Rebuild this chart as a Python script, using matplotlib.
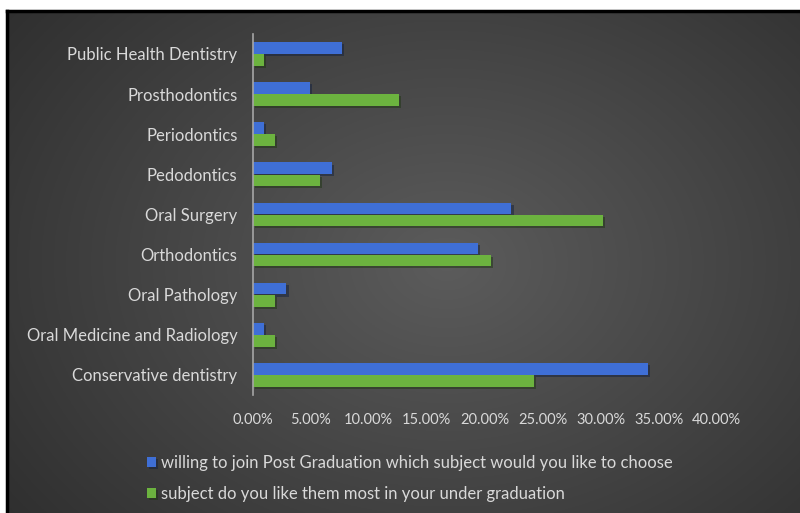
import numpy as np
import matplotlib
matplotlib.use("Agg")
import matplotlib.pyplot as plt
import matplotlib.patheffects as pe
from matplotlib.lines import Line2D
from matplotlib.ticker import FuncFormatter

# categories, bottom to top
subjects = ["Conservative dentistry", "Oral Medicine and Radiology", "Oral Pathology",
            "Orthodontics", "Oral Surgery", "Pedodontics", "Periodontics",
            "Prosthodontics", "Public Health Dentistry"]
pg_choice = [34.1, 0.96, 2.9, 19.4, 22.3, 6.8, 0.96, 4.9, 7.7]      # % willing to join PG
ug_liked = [24.2, 1.9, 1.9, 20.5, 30.2, 5.8, 1.9, 12.6, 0.96]       # % liked in UG
xticks = [0, 5, 10, 15, 20, 25, 30, 35, 40]

label_pg = "willing to join Post Graduation which subject would you like to choose"
label_ug = "subject do you like them most in your under graduation"

txt = "#d9d9d9"
blue = "#3f6fd6"
green = "#6cb33f"
plt.rcParams['font.family'] = ['Lato', 'DejaVu Sans']

fig = plt.figure(figsize=(8, 5.13), dpi=100)
fig.patch.set_facecolor("white")

# dark radial gradient background, framed by a black line top and left
bg = fig.add_axes([0.009, -0.01, 1.0, 0.989])
yy, xx = np.mgrid[0:1:300j, 0:1:500j]
r = np.sqrt(((xx - 0.55) / 0.75) ** 2 + ((yy - 0.5) / 0.9) ** 2)
shade = np.clip(0.36 - 0.19 * r, 0.18, 0.36)
bg.imshow(np.dstack([shade] * 3), aspect="auto", extent=[0, 1, 0, 1])
bg.axis("off")
fig.add_artist(Line2D([0.009, 1.0], [0.979, 0.979], color="black", lw=2.5))
fig.add_artist(Line2D([0.009, 0.009], [0.0, 0.979], color="black", lw=2.5))

ax = fig.add_axes([0.316, 0.230, 0.58, 0.704])
ax.patch.set_alpha(0)
y = np.arange(len(subjects))
h = 0.29
shadow = [pe.SimplePatchShadow(offset=(1.5, -1.5), alpha=0.5), pe.Normal()]
b1 = ax.barh(y + h / 2 + 0.005, pg_choice, height=h, color=blue, label=label_pg)
b2 = ax.barh(y - h / 2 - 0.005, ug_liked, height=h, color=green, label=label_ug)
for b in list(b1) + list(b2):
    b.set_path_effects(shadow)

ax.set_xlim(0, 40)
ax.set_ylim(-0.5, len(subjects) - 0.5)
ax.set_yticks(y)
ax.set_yticklabels(subjects)
ax.set_xticks(xticks)
ax.xaxis.set_major_formatter(FuncFormatter(lambda v, p: "%.2f%%" % v))
ax.tick_params(axis="both", length=0, colors=txt)
ax.tick_params(axis="y", pad=11, labelsize=12)
ax.tick_params(axis="x", pad=13, labelsize=10.5)
for side in ["top", "right", "bottom"]:
    ax.spines[side].set_visible(False)
ax.spines["left"].set_color("#a6a6a6")
ax.spines["left"].set_linewidth(1.2)

fig.legend(handles=[b1, b2], loc="upper left", bbox_to_anchor=(0.165, 0.143),
           frameon=False, labelcolor=txt, fontsize=12, handlelength=0.55,
           handleheight=0.55, handletextpad=0.3, labelspacing=0.9)

fig.savefig("out.png", dpi=100)
